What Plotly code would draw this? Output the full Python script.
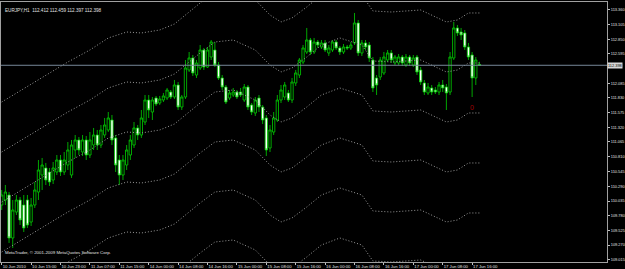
import plotly.graph_objects as go

# ---- data (EURJPY H1) ----
x_labels = ["10 Jun 2010", "10 Jun 15:00", "10 Jun 23:00", "11 Jun 07:00", "11 Jun 15:00",
            "14 Jun 00:00", "14 Jun 08:00", "14 Jun 16:00", "15 Jun 00:00", "15 Jun 08:00",
            "15 Jun 16:00", "16 Jun 00:00", "16 Jun 08:00", "16 Jun 16:00", "17 Jun 00:00",
            "17 Jun 08:00", "17 Jun 16:00"]
x_label_bars = [0, 8, 16, 24, 32, 40, 48, 56, 64, 72, 80, 88, 96, 104, 112, 120, 128]

y_labels = ["113.360", "113.105", "112.850", "112.595", "112.085", "111.830", "111.575",
            "111.320", "111.065", "110.810", "110.545", "110.290", "110.035", "109.780",
            "109.525", "109.270", "109.015"]

opens = [109.967, 110.054, 110.141, 109.393, 109.845, 110.054, 109.967, 110.054, 109.671, 109.967,
         110.193, 110.489, 110.611, 110.541, 110.402, 110.541, 110.750, 110.541, 110.663, 110.489,
         110.924, 111.098, 110.889, 111.098, 110.837, 111.011, 111.185, 111.011, 111.185, 111.272,
         111.446, 111.133, 110.750, 110.489, 110.663, 110.837, 111.011, 111.307, 111.185, 111.411,
         111.794, 111.585, 111.829, 111.742, 111.794, 111.829, 111.933, 111.846, 112.055, 111.672,
         111.846, 112.316, 112.525, 112.229, 112.351, 112.664, 112.368, 112.542, 112.664, 112.403,
         112.177, 112.020, 111.829, 111.881, 111.933, 111.933, 111.794, 112.020, 111.707, 111.568,
         111.829, 111.672, 111.481, 110.959, 111.237, 111.446, 111.794, 111.846, 111.916, 111.794,
         112.090, 112.229, 112.455, 112.629, 112.838, 112.629, 112.803, 112.716, 112.786, 112.612,
         112.664, 112.803, 112.699, 112.629, 112.716, 112.699, 112.786, 113.134, 112.612, 112.786,
         112.751, 112.490, 112.177, 112.194, 112.264, 112.490, 112.612, 112.438, 112.438, 112.542,
         112.403, 112.542, 112.403, 112.542, 112.316, 112.090, 111.916, 112.003, 111.968, 111.933,
         112.055, 112.020, 111.933, 112.525, 113.047, 112.977, 112.960, 112.716, 112.577, 112.177,
         112.412]
highs = [110.228, 110.315, 110.193, 110.054, 110.141, 110.106, 110.141, 110.141, 110.089, 110.367,
         110.750, 110.785, 110.698, 110.611, 110.715, 110.837, 110.837, 110.889, 111.063, 111.098,
         111.185, 111.150, 111.185, 111.168, 111.237, 111.307, 111.272, 111.359, 111.481, 111.585,
         111.533, 111.185, 110.837, 110.837, 111.011, 111.185, 111.411, 111.359, 111.620, 111.881,
         111.881, 111.846, 111.864, 111.864, 111.916, 112.003, 111.968, 112.142, 112.107, 111.881,
         112.490, 112.629, 112.577, 112.490, 112.751, 112.699, 112.716, 112.838, 112.803, 112.455,
         112.229, 112.055, 111.968, 112.003, 111.968, 112.003, 112.072, 112.055, 111.742, 111.846,
         111.881, 111.707, 111.533, 111.359, 111.585, 111.881, 112.055, 112.107, 111.968, 112.177,
         112.316, 112.525, 112.751, 113.047, 112.873, 112.873, 112.838, 112.838, 112.838, 112.751,
         112.838, 112.838, 112.734, 112.768, 112.751, 112.803, 113.308, 113.186, 112.838, 112.838,
         112.803, 112.542, 112.229, 112.542, 112.629, 112.664, 112.664, 112.577, 112.594, 112.577,
         112.594, 112.577, 112.577, 112.577, 112.368, 112.142, 112.090, 112.055, 112.020, 112.107,
         112.142, 112.072, 112.629, 113.151, 113.099, 113.047, 113.012, 112.786, 112.629, 112.542,
         112.459]
lows = [109.880, 109.967, 109.306, 109.219, 109.793, 109.619, 109.497, 109.567, 109.602, 109.915,
        110.054, 110.228, 110.315, 110.298, 110.332, 110.489, 110.472, 110.489, 110.576, 110.437,
        110.785, 110.837, 110.820, 110.750, 110.785, 110.924, 110.924, 110.959, 111.133, 111.237,
        111.011, 110.541, 110.315, 110.402, 110.576, 110.750, 110.959, 111.098, 111.133, 111.359,
        111.481, 111.446, 111.690, 111.707, 111.759, 111.794, 111.811, 111.811, 111.620, 111.620,
        111.811, 112.281, 112.212, 112.177, 112.316, 112.316, 112.351, 112.490, 112.368, 112.142,
        111.968, 111.724, 111.794, 111.846, 111.811, 111.846, 111.759, 111.620, 111.533, 111.516,
        111.585, 111.376, 110.820, 110.889, 111.185, 111.411, 111.742, 111.794, 111.759, 111.742,
        112.038, 112.177, 112.420, 112.594, 112.577, 112.594, 112.699, 112.681, 112.629, 112.560,
        112.629, 112.664, 112.577, 112.594, 112.664, 112.664, 112.751, 112.560, 112.560, 112.664,
        112.455, 111.933, 111.881, 112.142, 112.229, 112.455, 112.438, 112.403, 112.403, 112.386,
        112.368, 112.386, 112.368, 112.229, 112.055, 111.881, 111.881, 111.881, 111.898, 111.881,
        111.933, 111.620, 111.881, 112.490, 112.908, 112.838, 112.664, 112.490, 111.846, 112.055,
        112.397]
closes = [110.141, 110.193, 109.393, 109.880, 110.054, 109.706, 109.567, 109.619, 109.967, 110.228,
          110.576, 110.663, 110.402, 110.367, 110.611, 110.750, 110.541, 110.750, 110.924, 111.011,
          111.098, 110.924, 111.098, 110.837, 111.098, 111.185, 111.011, 111.272, 111.359, 111.481,
          111.098, 110.663, 110.489, 110.750, 110.924, 111.098, 111.307, 111.185, 111.481, 111.794,
          111.620, 111.794, 111.724, 111.811, 111.864, 111.968, 111.846, 112.055, 111.672, 111.846,
          112.351, 112.525, 112.264, 112.438, 112.664, 112.368, 112.664, 112.803, 112.403, 112.177,
          112.020, 111.759, 111.916, 111.933, 111.846, 111.881, 112.020, 111.672, 111.585, 111.794,
          111.672, 111.446, 110.924, 111.272, 111.481, 111.794, 111.968, 112.055, 111.794, 112.107,
          112.264, 112.490, 112.699, 112.838, 112.629, 112.803, 112.751, 112.786, 112.664, 112.699,
          112.803, 112.699, 112.629, 112.716, 112.699, 112.751, 113.134, 112.612, 112.786, 112.716,
          112.525, 112.003, 112.055, 112.490, 112.542, 112.612, 112.490, 112.542, 112.542, 112.438,
          112.542, 112.438, 112.525, 112.281, 112.107, 111.933, 112.020, 111.933, 111.933, 112.055,
          112.003, 111.916, 112.542, 113.047, 112.960, 112.925, 112.716, 112.542, 112.177, 112.490,
          112.398]

# dotted envelope lines, sampled at these bars (values read per line)
band_bars = [0, 9, 18, 24, 29, 34, 38, 43, 47, 51, 54, 58, 63, 69, 73, 76, 79, 83, 87, 92,
             98, 101, 106, 114, 118, 121, 124, 127, 130]
band_1 = [111.759, 112.107, 112.455, 112.664, 112.873, 112.977, 112.960, 113.012, 113.116, 113.325,
          113.482, 113.673, 113.708, 113.534, 113.273, 113.151, 113.221, 113.412, 113.621, 113.743,
          113.621, 113.343, 113.325, 113.360, 113.238, 113.151, 113.186, 113.308, 113.308]
band_2 = [110.889, 111.237, 111.585, 111.794, 112.003, 112.107, 112.090, 112.142, 112.246, 112.455,
          112.612, 112.803, 112.838, 112.664, 112.403, 112.281, 112.351, 112.542, 112.751, 112.873,
          112.751, 112.473, 112.455, 112.490, 112.368, 112.281, 112.316, 112.438, 112.438]
band_3 = [110.019, 110.367, 110.715, 110.924, 111.133, 111.237, 111.220, 111.272, 111.376, 111.585,
          111.742, 111.933, 111.968, 111.794, 111.533, 111.411, 111.481, 111.672, 111.881, 112.003,
          111.881, 111.603, 111.585, 111.620, 111.498, 111.411, 111.446, 111.568, 111.568]
band_4 = [109.149, 109.497, 109.845, 110.054, 110.263, 110.367, 110.350, 110.402, 110.506, 110.715,
          110.872, 111.063, 111.098, 110.924, 110.663, 110.541, 110.611, 110.802, 111.011, 111.133,
          111.011, 110.733, 110.715, 110.750, 110.628, 110.541, 110.576, 110.698, 110.698]
band_5 = [108.279, 108.627, 108.975, 109.184, 109.393, 109.497, 109.480, 109.532, 109.636, 109.845,
          110.002, 110.193, 110.228, 110.054, 109.793, 109.671, 109.741, 109.932, 110.141, 110.263,
          110.141, 109.863, 109.845, 109.880, 109.758, 109.671, 109.706, 109.828, 109.828]
band_6 = [107.409, 107.757, 108.105, 108.314, 108.523, 108.627, 108.610, 108.662, 108.766, 108.975,
          109.132, 109.323, 109.358, 109.184, 108.923, 108.801, 108.871, 109.062, 109.271, 109.393,
          109.271, 108.993, 108.975, 109.010, 108.888, 108.801, 108.836, 108.958, 108.958]

last_price = 112.398

# ---- figure ----
GREEN = "#00d000"
FONT = "Liberation Sans"
fig = go.Figure()

for band in [band_1, band_2, band_3, band_4, band_5, band_6]:
    fig.add_trace(go.Scatter(x=band_bars, y=band, mode="lines",
                             line=dict(color="#9a9a9a", width=1, dash="1px,2px"),
                             showlegend=False, hoverinfo="skip"))

fig.add_trace(go.Candlestick(
    x=list(range(len(opens))), open=opens, high=highs, low=lows, close=closes,
    increasing=dict(line=dict(color=GREEN, width=0.8), fillcolor="#000000"),
    decreasing=dict(line=dict(color=GREEN, width=0.8), fillcolor="#ffffff"),
    whiskerwidth=0, showlegend=False, hoverinfo="skip"))

fig.add_shape(type="line", xref="paper", x0=0, x1=1, yref="y", y0=last_price, y1=last_price,
              line=dict(color="#778899", width=1))

fig.add_annotation(xref="paper", x=1.0, yref="y", y=last_price, text=f"{last_price:.3f}",
                   showarrow=False, xanchor="left", yanchor="middle", bgcolor="#d8d8d8",
                   font=dict(size=3.9, color="#000000", family=FONT), borderpad=0)
fig.add_annotation(x=128, y=111.672, text="0", showarrow=False,
                   font=dict(size=7, color="#a00000", family=FONT))
fig.add_annotation(xref="paper", yref="paper", x=0.003, y=0.985, xanchor="left", yanchor="top",
                   text="EURJPY,H1  112.412 112.459 112.397 112.398", showarrow=False,
                   font=dict(size=4.6, color="#e0e0e0", family=FONT))
fig.add_annotation(xref="paper", yref="paper", x=0.003, y=0.02, xanchor="left", yanchor="bottom",
                   text="MetaTrader, © 2001-2009 MetaQuotes Software Corp.", showarrow=False,
                   font=dict(size=4.4, color="#e0e0e0", family=FONT))

fig.update_layout(
    width=625, height=269, margin=dict(l=1, r=18, t=2, b=7),
    paper_bgcolor="#000000", plot_bgcolor="#000000",
    xaxis=dict(range=[-0.19, 164.7], tickvals=x_label_bars, ticktext=x_labels,
               ticklabelposition="outside right", tickangle=0, automargin=False,
               ticks="outside", ticklen=2, tickcolor="#c0c0c0",
               tickfont=dict(size=4.2, color="#e0e0e0", family=FONT),
               showgrid=False, zeroline=False, showline=True, linecolor="#a0a0a0", mirror=True,
               rangeslider=dict(visible=False), fixedrange=True),
    yaxis=dict(range=[108.975, 113.499], side="right", tickvals=[float(v) for v in y_labels],
               ticktext=y_labels, ticks="outside", ticklen=2, tickcolor="#c0c0c0", automargin=False,
               tickfont=dict(size=3.9, color="#e0e0e0", family=FONT),
               showgrid=False, zeroline=False, showline=True, linecolor="#a0a0a0", mirror=True,
               fixedrange=True),
    boxgap=0.1,
)
fig.write_html("out.html")
